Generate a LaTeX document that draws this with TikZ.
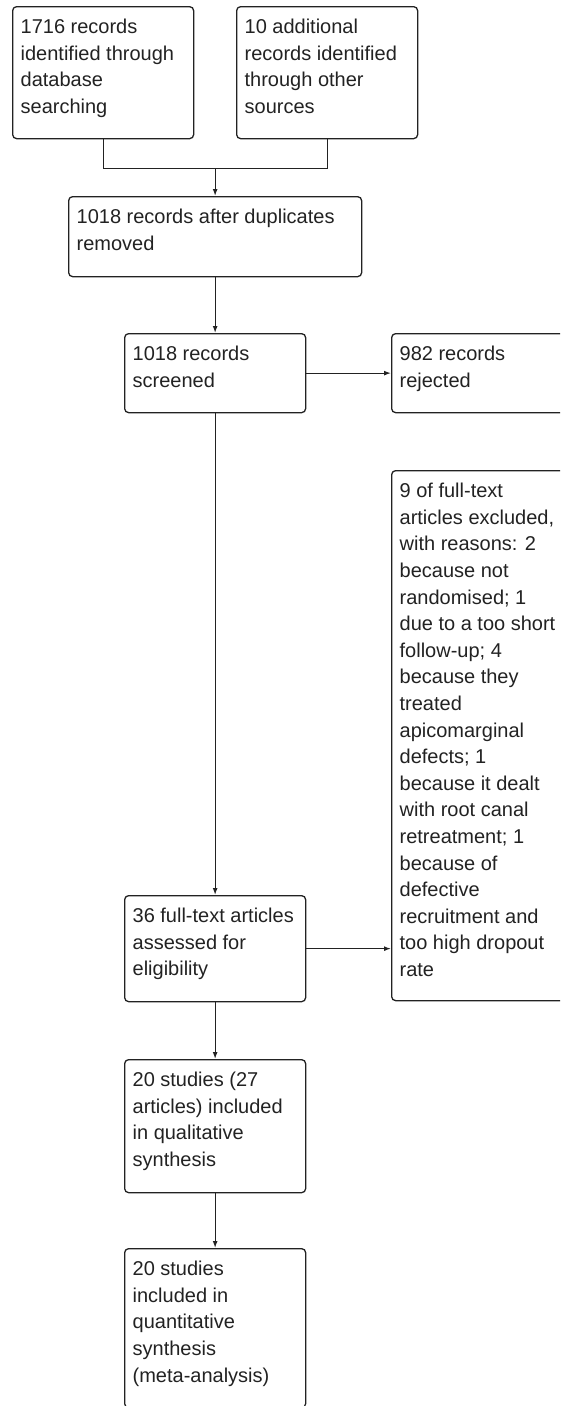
\documentclass[tikz,border=0pt]{standalone}
\usepackage{fontspec}
\setmainfont{Liberation Sans}
\usetikzlibrary{arrows.meta}
\newcommand{\boxtext}[3]{\parbox[t][#2][t]{#1}{\raggedright\leftskip=8pt\fontsize{20}{26.6}\selectfont\rule{0pt}{27pt}#3}}
\definecolor{ink}{HTML}{222222}
\tikzset{
  bx/.style={draw=ink, rounded corners=4pt, inner sep=0pt, line width=1.3pt, text=ink, anchor=north west},
  line/.style={draw=ink, line width=1.3pt},
  arr/.style={line, -{Latex[length=7pt,width=5pt]}}
}
\begin{document}
\begin{tikzpicture}[x=1pt,y=-1pt]
\useasboundingbox (0,0) rectangle (560,1406);
\clip (0,0) rectangle (560,1406);
\node[bx] (b1) at (12,6) {\boxtext{181pt}{132pt}{1716 records\\identified through\\database\\searching}};
\node[bx] (b2) at (236,6) {\boxtext{181pt}{132pt}{10 additional\\records identified\\through other\\sources}};
\node[bx] (b3) at (68,196) {\boxtext{293pt}{80pt}{1018 records after duplicates\\removed}};
\node[bx] (b4) at (124,333) {\boxtext{181pt}{79pt}{1018 records\\screened}};
\node[bx] (b5) at (391,333) {\boxtext{181pt}{79pt}{982 records\\rejected}};
\node[bx] (b6) at (391,470) {\boxtext{181pt}{530pt}{9 of full-text\\articles excluded,\\with reasons: 2\\because not\\randomised; 1\\due to a too short\\follow-up; 4\\because they\\treated\\apicomarginal\\defects; 1\\because it dealt\\with root canal\\retreatment; 1\\because of\\defective\\recruitment and\\too high dropout\\rate}};
\node[bx] (b7) at (124,895) {\boxtext{181pt}{106pt}{36 full-text articles\\assessed for\\eligibility}};
\node[bx] (b8) at (124,1059) {\boxtext{181pt}{133pt}{20 studies (27\\articles) included\\in qualitative\\synthesis}};
\node[bx] (b9) at (124,1248) {\boxtext{181pt}{159pt}{20 studies\\included in\\quantitative\\synthesis\\(meta-analysis)}};
\path (b1.south) ++(0,29) coordinate (j1);
\draw[line] (b1.south) -- (j1) -| (b2.south);
\draw[arr] (b3.north |- j1) -- (b3.north);
\draw[arr] (b3.south) -- (b4.north);
\draw[arr] (b4.east) -- (b5.west);
\draw[arr] (b4.south) -- (b7.north);
\draw[arr] (b7.east) -- (b7.east -| b6.west);
\draw[arr] (b7.south) -- (b8.north);
\draw[arr] (b8.south) -- (b9.north);
\end{tikzpicture}
\end{document}
